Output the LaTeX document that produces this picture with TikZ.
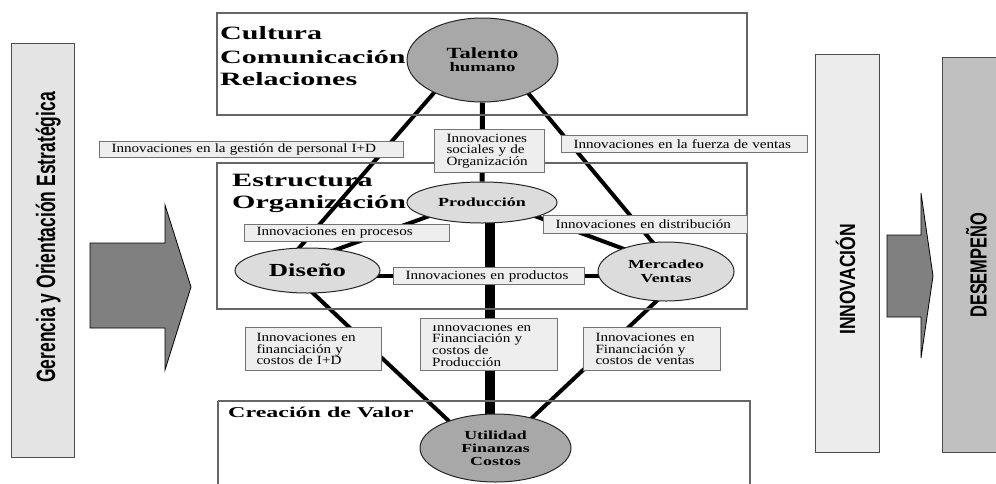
\documentclass[tikz,border=0pt]{standalone}
\usepackage{fontspec}
\usetikzlibrary{shapes.geometric,calc}
\newfontfamily\ttlfont[FakeStretch=1.6]{Liberation Serif}
\newfontfamily\ellfont[FakeStretch=1.45]{Liberation Serif}
\newfontfamily\lblfont[FakeStretch=1.2]{Liberation Serif}
\newfontfamily\gerfont[FakeStretch=0.66]{Liberation Sans}
\newfontfamily\innofont[FakeStretch=0.80]{Liberation Sans}
\newfontfamily\desefont[FakeStretch=0.705]{Liberation Sans}
\definecolor{lblfill}{HTML}{EEEEEE}
\definecolor{darkell}{HTML}{A8A8A8}
\definecolor{lightell}{HTML}{DCDCDC}
\definecolor{barA}{HTML}{E4E4E4}
\definecolor{barB}{HTML}{ECECEC}
\definecolor{barC}{HTML}{C0C0C0}
\definecolor{arrowfill}{HTML}{808080}
\pgfdeclarelayer{bg}
\pgfsetlayers{bg,main}
\begin{document}
\begin{tikzpicture}[x=1pt,y=-1pt,
  secbox/.style={draw=black!60, line width=1.3pt},
  lblbox/.style={draw=black!55, fill=lblfill, line width=1pt, inner xsep=12pt, inner ysep=0pt,
     align=left, anchor=north west, font=\lblfont\fontsize{12.6}{11.8}\selectfont},
  ellnode/.style={ellipse, draw=black!85, line width=1pt, inner sep=0pt, align=center},
  ttl/.style={anchor=base west, inner sep=0pt, font=\ttlfont\bfseries\fontsize{18.8}{22}\selectfont},
  conn/.style={line width=4pt},
  bar/.style={draw=black!70, line width=1pt},
  bigarrow/.style={draw=black, line width=0.8pt, fill=arrowfill}
]
\useasboundingbox (0,0) rectangle (996,483);

% side bars
\draw[bar, fill=barA] (11,43) rectangle (74,457);
\node[rotate=90, anchor=base west, inner sep=0pt, font=\gerfont\bfseries\fontsize{26.5}{30}\selectfont] (ger) at (55,383) {Gerencia y Orientación Estratégica};
\draw[bigarrow] (90,243) -- (165,243) -- (165,205) -- (191,287) -- (165,370) -- (165,328) -- (90,328) -- cycle;

\draw[bar, fill=barB] (815,54) rectangle (879,452);
\node[rotate=90, anchor=base west, inner sep=0pt, font=\innofont\bfseries\fontsize{21.9}{24}\selectfont] (inno) at (855,335) {INNOVACIÓN};
\draw[bigarrow] (887,235) -- (921,235) -- (921,193) -- (933,276) -- (921,358) -- (921,317) -- (887,317) -- cycle;
\draw[bar, fill=barC] (942,57) rectangle (1005,452);
\node[rotate=90, anchor=base west, inner sep=0pt, font=\desefont\bfseries\fontsize{23.3}{26}\selectfont] (dese) at (986.5,318) {DESEMPEÑO};

% section boxes
\draw[secbox] (217,13) rectangle (747,115);
\draw[secbox] (217,163) rectangle (747,309);
\draw[secbox] (218,401) -- (750,401) -- (750,490);
\draw[secbox] (218,401) -- (218,490);

\node[ttl] (t1) at (220,39.3) {Cultura};
\node[ttl] (t2) at (220,63) {Comunicación};
\node[ttl] (t3) at (220,85) {Relaciones};
\node[ttl] (t4) at (232,186) {Estructura};
\node[ttl] (t5) at (232,208) {Organización};
\node[ttl, font=\ttlfont\bfseries\fontsize{15}{18}\selectfont] (t6) at (228,417) {Creación de Valor};

% ellipses
\node[ellnode, fill=darkell, minimum width=151, minimum height=84,
  font=\ellfont\bfseries\fontsize{15.5}{13}\selectfont] (tal) at (482.5,60)
  {Talento\\{\fontsize{13}{13}\selectfont humano}};
\node[ellnode, fill=lightell, minimum width=150, minimum height=41,
  font=\ellfont\bfseries\fontsize{12.4}{13}\selectfont] (prod) at (482,202.5) {Producción};
\node[ellnode, fill=lightell, minimum width=145, minimum height=45,
  font=\ellfont\bfseries\fontsize{18.4}{20}\selectfont] (dis) at (307.5,270.5) {Diseño};
\node[ellnode, fill=lightell, minimum width=136, minimum height=59,
  font=\ellfont\bfseries\fontsize{12.3}{13.5}\selectfont] (mer) at (666,271.5) {Mercadeo\\Ventas};
\node[ellnode, fill=darkell, minimum width=151, minimum height=68,
  font=\ellfont\bfseries\fontsize{12.3}{12.8}\selectfont] (uti) at (495.5,448) {Utilidad\\Finanzas\\Costos};

% connectors
\begin{pgfonlayer}{bg}
\draw[conn] ($(tal)+(-20,0)$) -- ($(dis)+(-28,0)$);
\draw[conn] ($(tal)+(18,0)$) -- ($(mer)+(11,0)$);
\draw[line width=5pt] (tal) -- (prod);
\draw[line width=10pt] ($(prod)+(8,0)$) -- ($(uti)+(-5.5,0)$);
\draw[conn] ($(dis)+(0,-10.5)$) -- ($(prod)+(0,-5.5)$);
\draw[conn] ($(dis)+(0,5.5)$) -- ($(mer)+(0,4.5)$);
\draw[conn] ($(prod)+(0,-6)$) -- ($(mer)+(0,-7)$);
\draw[conn] ($(dis)+(-18.5,0)$) -- ($(uti)+(-18,0)$);
\draw[conn] ($(mer)+(22,0)$) -- ($(uti)+(4.5,0)$);
\end{pgfonlayer}

% label boxes
\node[lblbox, text width=280, minimum height=16] (gest) at (99,141) {Innovaciones en la gestión de personal I+D};
\node[lblbox, text width=86, minimum height=43] (soc) at (434,129) {Innovaciones\\sociales y de\\Organización};
\node[lblbox, text width=222, minimum height=17] (fuer) at (561,135) {Innovaciones en la fuerza de ventas};
\node[lblbox, text width=181, minimum height=17] (proc) at (244,224) {Innovaciones en procesos};
\node[lblbox, text width=180, minimum height=18] (dist) at (543,215) {Innovaciones en distribución};
\node[lblbox, text width=167, minimum height=17] (prodn) at (393,267) {Innovaciones en productos};
\node[lblbox, inner xsep=11pt, text width=114, minimum height=43] (fid) at (245,327) {Innovaciones en\\financiación y\\costos de I+D};
\node[lblbox, text width=113, minimum height=43] (fve) at (583,327) {Innovaciones en\\Financiación y\\costos de ventas};
\node[lblbox, text width=113, minimum height=52] (fpr) at (420,318) {};
\begin{scope}
\clip (420,325) rectangle (557,370);
\node[anchor=base west, inner sep=0pt, align=left, text width=113,
  font=\lblfont\fontsize{12.6}{11.8}\selectfont] (fprtext) at (432,331) {Innovaciones en\\Financiación y\\costos de\\Producción};
\end{scope}
\end{tikzpicture}
\end{document}
